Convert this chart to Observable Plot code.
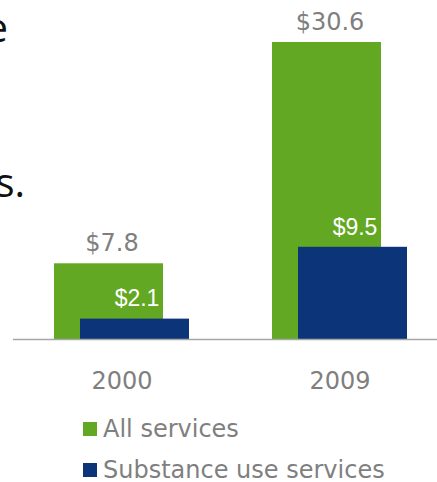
<!DOCTYPE html>
<html>
<head>
<meta charset="utf-8">
<script src="https://cdn.jsdelivr.net/npm/d3@7"></script>
<script src="https://cdn.jsdelivr.net/npm/@observablehq/plot@0.6"></script>
<style>
  html, body { margin: 0; padding: 0; background: #fff; }
  #wrap { position: relative; width: 437px; height: 482px; overflow: hidden; background: #fff; }
  #chart { position: absolute; left: 0; top: 0; }
  .frag { position: absolute; right: 429px; white-space: nowrap; font-family: "Open Sans", sans-serif; font-size: 40px; line-height: 40px; color: #111; }
  .frag2 { right: 412px; }
  .leg { position: absolute; left: 0; width: 437px; height: 26px; }
  .sw { position: absolute; left: 83px; width: 14px; height: 14px; }
  .lt { position: absolute; left: 103px; font-family: "DejaVu Sans", sans-serif; font-size: 24px; line-height: 20px; color: #7f7f7f; white-space: nowrap; }
</style>
</head>
<body>
<div id="wrap">
  <div id="chart"></div>
  <div class="frag" style="top:7px;">e</div>
  <div class="frag frag2" style="top:162px;">s.</div>
  <div id="legend"></div>
</div>
<script>
const years = ["2000", "2009"];
const allServices = [7.8, 30.6];
const substanceUse = [2.1, 9.5];
const seriesNames = ["All services", "Substance use services"];
const seriesColors = ["#63a823", "#0b3479"];

const allData = years.map((year, i) => ({ year, value: allServices[i] }));
const subData = years.map((year, i) => ({ year, value: substanceUse[i] }));
const fmt = d => "$" + d.value.toFixed(1);

const chart = Plot.plot({
  width: 437,
  height: 400,
  marginTop: 42,
  marginBottom: 61,
  marginLeft: 45,
  marginRight: 21,
  x: { domain: years, padding: 0.5, paddingOuter: 0.1, label: null },
  y: { domain: [0, 30.6], axis: null },
  style: { background: "transparent" },
  marks: [
    Plot.barY(allData, { x: "year", y: "value", fill: seriesColors[0], dx: -13 }),
    Plot.barY(subData, { x: "year", y: "value", fill: seriesColors[1], dx: 13 }),
    Plot.ruleY([0], { stroke: "#a6a6a6", strokeWidth: 1.5, insetLeft: -32, insetRight: -21 }),
    Plot.text(allData, { x: "year", y: "value", text: fmt, dx: -10, dy: -20, fill: "#7f7f7f", fontSize: 24, fontFamily: "DejaVu Sans" }),
    Plot.text(subData, { x: "year", y: "value", text: fmt, dx: 15, dy: -20, fill: "#ffffff", fontSize: 23, fontFamily: "Liberation Sans, Arial" }),
    Plot.axisX({ tickSize: 0, tickPadding: 32, fontSize: 24, fontFamily: "DejaVu Sans", fill: "#7f7f7f", label: null })
  ]
});
document.getElementById("chart").appendChild(chart);

const legend = document.getElementById("legend");
seriesNames.forEach((name, i) => {
  const item = document.createElement("div");
  item.className = "leg";
  item.style.top = (415 + i * 41) + "px";
  const sw = document.createElement("span");
  sw.className = "sw";
  sw.style.top = "7px";
  sw.style.background = seriesColors[i];
  const lt = document.createElement("span");
  lt.className = "lt";
  lt.style.top = "4px";
  lt.textContent = name;
  item.appendChild(sw);
  item.appendChild(lt);
  legend.appendChild(item);
});
</script>
</body>
</html>
